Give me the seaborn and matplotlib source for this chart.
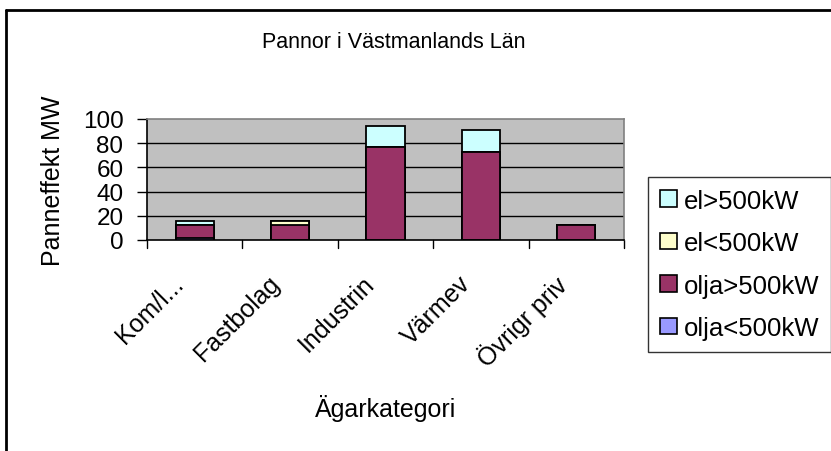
import matplotlib
matplotlib.use("Agg")
import matplotlib.pyplot as plt
import matplotlib.transforms as mtransforms
import seaborn as sns
import pandas as pd
import numpy as np
from matplotlib.patches import Patch
from matplotlib.lines import Line2D

categories = ["Kom/l...", "Fastbolag", "Industrin", "Värmev", "Övrigr priv"]
olja_lt500 = [1.5, 0.0, 0.0, 0.0, 0.0]
olja_gt500 = [10.5, 12.0, 76.5, 73.0, 12.0]
el_lt500 = [0.0, 3.5, 0.0, 0.0, 0.0]
el_gt500 = [3.5, 0.0, 18.0, 17.8, 0.0]
series_names = ["olja<500kW", "olja>500kW", "el<500kW", "el>500kW"]
series_colors = ["#9999FF", "#993366", "#FFFFCC", "#CCFFFF"]
yticks = [0, 20, 40, 60, 80, 100]

sns.set_theme(style="white")
plt.rcParams["font.family"] = ["Liberation Sans", "DejaVu Sans"]
plt.rcParams["text.color"] = "black"
plt.rcParams["axes.labelcolor"] = "black"
plt.rcParams["xtick.color"] = "black"
plt.rcParams["ytick.color"] = "black"

fig = plt.figure(figsize=(8.31, 4.52), dpi=100)
ax = fig.add_axes([147/831, 1-241/452, (624-147)/831, (241-120)/452])

layers = [olja_lt500, olja_gt500, el_lt500, el_gt500]
cum = np.cumsum(np.array(layers), axis=0)
# draw from top of stack down so lower layers overlay upper ones
for i in range(len(layers)-1, -1, -1):
    df = pd.DataFrame({"cat": categories, "val": cum[i]})
    sns.barplot(data=df, x="cat", y="val", color=series_colors[i], width=0.4,
                edgecolor="black", linewidth=1.3, ax=ax, saturation=1, zorder=3)

ax.set_facecolor("#C0C0C0")
ax.set_ylim(0, 100)
ax.set_xlim(-0.5, 4.5)
ax.set_yticks(yticks)
for y in yticks[1:-1]:
    ax.axhline(y, color="black", linewidth=1.0, zorder=1)
for s in ax.spines.values():
    s.set_color("#808080")
    s.set_linewidth(1.2)
ax.spines["left"].set_color("black")
ax.spines["bottom"].set_color("black")

ax.tick_params(axis="y", direction="out", length=7, width=1, color="black",
               labelcolor="black", labelsize=17.5, pad=10, left=True)
ax.set_xticks(range(5))
ax.set_xticklabels(categories, rotation=45, ha="right", rotation_mode="anchor",
                   fontsize=18, color="black")
ax.tick_params(axis="x", length=0, pad=22)
offset = mtransforms.ScaledTranslation(-23/100, 0, fig.dpi_scale_trans)
for lbl in ax.get_xticklabels():
    lbl.set_transform(lbl.get_transform() + offset)
# tick marks between categories
for xb in [-0.5, 0.5, 1.5, 2.5, 3.5, 4.5]:
    ax.add_line(Line2D([xb, xb], [0, -6.5], color="black", linewidth=1,
                       clip_on=False))

ax.set_xlabel("Ägarkategori", fontsize=18, color="black")
ax.set_ylabel("Panneffekt MW", fontsize=18, color="black")
ax.yaxis.set_label_coords(-0.172, 0.5)
ax.xaxis.set_label_coords(0.5, -1.27)

fig.text(394/831, 1-42/452, "Pannor i Västmanlands Län", fontsize=15.5,
         ha="center", va="center", color="black")

handles = [Patch(facecolor=series_colors[i], edgecolor="black", linewidth=1.2,
                 label=series_names[i]) for i in range(3, -1, -1)]
leg = fig.legend(handles=handles, loc="upper left",
                 bbox_to_anchor=(648/831, 1-178/452), fontsize=18.5,
                 frameon=True, fancybox=False, edgecolor="black",
                 handlelength=0.66, handleheight=0.6, handletextpad=0.3,
                 labelspacing=0.72, borderpad=0.45, borderaxespad=0,
                 labelcolor="black")
leg.get_frame().set_linewidth(1.0)

# figure border (top and left)
fig.add_artist(Line2D([6/831, 6/831], [0, 1-11/452], color="black",
                      linewidth=2, transform=fig.transFigure))
fig.add_artist(Line2D([6/831, 1], [1-11/452, 1-11/452], color="black",
                      linewidth=2, transform=fig.transFigure))

fig.savefig("out.png", dpi=100)
